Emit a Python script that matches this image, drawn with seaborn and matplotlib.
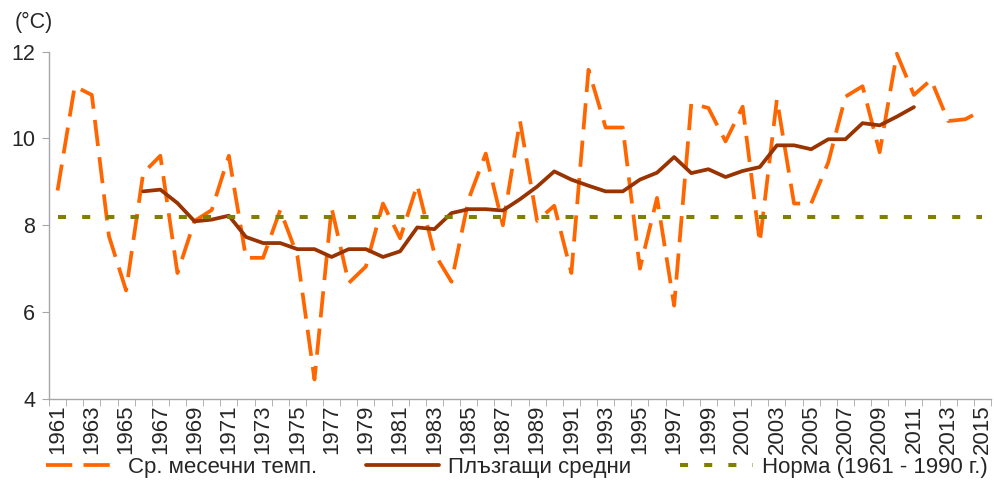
import numpy as np
import pandas as pd
import seaborn as sns
import matplotlib.pyplot as plt
from matplotlib.lines import Line2D
from matplotlib.ticker import FixedLocator

# данни
years = list(range(1961, 2016))
temps = [8.8, 11.2, 11.0, 7.75, 6.5, 9.2, 9.6, 6.9, 8.1, 8.35,
         9.6, 7.25, 7.25, 8.35, 7.3, 4.45, 8.4, 6.67, 7.05, 8.5,
         7.7, 8.93, 7.35, 6.7, 8.6, 9.65, 8.0, 10.4, 8.1, 8.45,
         6.9, 11.58, 10.25, 10.25, 7.0, 8.63, 6.15, 10.8, 10.7, 9.93,
         10.73, 7.6, 10.9, 8.5, 8.5, 9.45, 10.96, 11.2, 9.68, 11.95,
         11.0, 11.35, 10.4, 10.44, 10.65]
ma_years = list(range(1966, 2012))
ma_values = [8.78, 8.82, 8.51, 8.09, 8.13, 8.22, 7.73, 7.59, 7.59, 7.45,
             7.45, 7.27, 7.45, 7.45, 7.27, 7.40, 7.95, 7.91, 8.28, 8.37,
             8.37, 8.34, 8.60, 8.89, 9.24, 9.05, 8.91, 8.78, 8.78, 9.05,
             9.21, 9.57, 9.20, 9.29, 9.11, 9.25, 9.34, 9.84, 9.84, 9.75,
             9.98, 9.98, 10.35, 10.30, 10.50, 10.72]
norm = 8.2

labels = ['Ср. месечни темп.', 'Плъзгащи средни', 'Норма (1961 - 1990 г.)']
colors = ['#FF6600', '#993300', '#808000']

sns.set_style('white')
plt.rcParams['font.family'] = ['Liberation Sans', 'DejaVu Sans']

df = pd.DataFrame({'Year': years, 'Temp': temps, 'Norm': norm})
df['pos'] = df['Year'] - 1961
df_ma = pd.DataFrame({'Year': ma_years, 'MA': ma_values})
df_ma['pos'] = df_ma['Year'] - 1961

fig = plt.figure(figsize=(9.94, 4.95), dpi=100)
ax = fig.add_axes([49 / 994, 1 - 399 / 495, (991 - 49) / 994, (399 - 51.5) / 495])

sns.lineplot(data=df, x='pos', y='Temp', ax=ax, color=colors[0], linewidth=2.7,
             linestyle=(0, (7, 3)))
sns.lineplot(data=df_ma, x='pos', y='MA', ax=ax, color=colors[1], linewidth=2.7,
             solid_joinstyle='round')
sns.lineplot(data=df, x='pos', y='Norm', ax=ax, color=colors[2], linewidth=2.9,
             linestyle=(0, (2, 4)))

ax.set_xlim(-0.5, len(years) - 0.5)
ax.set_ylim(4, 12)
ax.set_yticks([4, 6, 8, 10, 12])
ax.set_xticks(range(0, len(years), 2))
ax.set_xticklabels([str(y) for y in years[::2]], rotation=90)
ax.xaxis.set_minor_locator(FixedLocator(np.arange(-0.5, len(years), 1)))
ax.set_xlabel('')
ax.set_ylabel('')

for s in ['top', 'right']:
    ax.spines[s].set_visible(False)
for s in ['left', 'bottom']:
    ax.spines[s].set_color('#A6A6A6')
    ax.spines[s].set_linewidth(1.0)

ax.tick_params(axis='y', which='major', direction='out', length=5, color='#A6A6A6',
               labelsize=15.5, pad=5, left=True)
ax.tick_params(axis='x', which='major', length=0, labelsize=16, pad=4, bottom=True)
ax.tick_params(axis='x', which='minor', direction='out', length=5, color='#A6A6A6',
               bottom=True)

fig.text(15 / 994, 1 - 22 / 495, '(°C)', fontsize=15.5, va='center', ha='left')

handles = [Line2D([], [], color=colors[0], linewidth=2.7, linestyle=(0, (7, 3))),
           Line2D([], [], color=colors[1], linewidth=2.7),
           Line2D([], [], color=colors[2], linewidth=2.9, linestyle=(0, (2, 4)))]
fig.legend(handles, labels, loc='center', bbox_to_anchor=(0.52, 1 - 467 / 495), ncol=3,
           frameon=False, fontsize=16, handlelength=3.3, handletextpad=0.4,
           columnspacing=2.2)

fig.savefig('out.png', dpi=100)
